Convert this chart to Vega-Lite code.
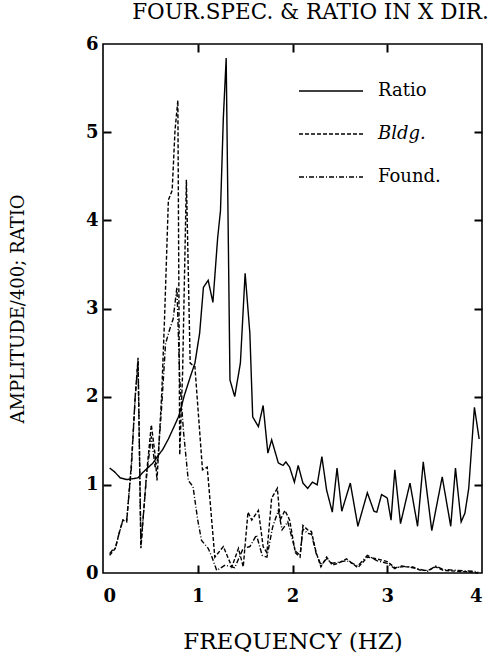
{
  "$schema": "https://vega.github.io/schema/vega-lite/v6.json",
  "width": 379,
  "height": 529,
  "autosize": {"type": "none"},
  "padding": {"left": 103, "top": 44, "right": 11, "bottom": 84},
  "background": "white",
  "title": {"text": "FOUR.SPEC. & RATIO IN X DIR.", "font": "DejaVu Serif", "fontSize": 21.5, "fontWeight": "normal", "color": "black", "anchor": "middle", "offset": 12, "dx": 18},
  "config": {
    "view": {"stroke": "black", "strokeWidth": 1.6},
    "axis": {"grid": false, "domain": false, "ticks": true, "tickColor": "black", "tickOpacity": 1, "tickWidth": 2, "tickSize": 8, "labelColor": "black", "labelFont": "DejaVu Serif", "labelFontSize": 18, "labelFontWeight": "bold", "titleColor": "black", "titleFont": "DejaVu Serif", "titleFontWeight": "normal"}
  },
  "datasets": {
    "spec": [
      {"series": "Ratio", "freq": 0.07, "amp": 1.19},
      {"series": "Ratio", "freq": 0.12, "amp": 1.15},
      {"series": "Ratio", "freq": 0.18, "amp": 1.08},
      {"series": "Ratio", "freq": 0.25, "amp": 1.06},
      {"series": "Ratio", "freq": 0.32, "amp": 1.07},
      {"series": "Ratio", "freq": 0.37, "amp": 1.08},
      {"series": "Ratio", "freq": 0.42, "amp": 1.14},
      {"series": "Ratio", "freq": 0.48, "amp": 1.2},
      {"series": "Ratio", "freq": 0.53, "amp": 1.25},
      {"series": "Ratio", "freq": 0.58, "amp": 1.33},
      {"series": "Ratio", "freq": 0.63, "amp": 1.4},
      {"series": "Ratio", "freq": 0.69, "amp": 1.52},
      {"series": "Ratio", "freq": 0.75, "amp": 1.66},
      {"series": "Ratio", "freq": 0.8, "amp": 1.78},
      {"series": "Ratio", "freq": 0.86, "amp": 2.02},
      {"series": "Ratio", "freq": 0.92, "amp": 2.22},
      {"series": "Ratio", "freq": 0.97, "amp": 2.38},
      {"series": "Ratio", "freq": 1.02, "amp": 2.72},
      {"series": "Ratio", "freq": 1.06, "amp": 3.24},
      {"series": "Ratio", "freq": 1.11, "amp": 3.32},
      {"series": "Ratio", "freq": 1.16, "amp": 3.07},
      {"series": "Ratio", "freq": 1.21, "amp": 3.8},
      {"series": "Ratio", "freq": 1.24, "amp": 4.11},
      {"series": "Ratio", "freq": 1.27, "amp": 5.16},
      {"series": "Ratio", "freq": 1.3, "amp": 5.84},
      {"series": "Ratio", "freq": 1.34, "amp": 2.19},
      {"series": "Ratio", "freq": 1.39, "amp": 2.0},
      {"series": "Ratio", "freq": 1.45, "amp": 2.38},
      {"series": "Ratio", "freq": 1.5, "amp": 3.4},
      {"series": "Ratio", "freq": 1.55, "amp": 2.72},
      {"series": "Ratio", "freq": 1.58, "amp": 1.77},
      {"series": "Ratio", "freq": 1.64, "amp": 1.66},
      {"series": "Ratio", "freq": 1.69, "amp": 1.9},
      {"series": "Ratio", "freq": 1.74, "amp": 1.36},
      {"series": "Ratio", "freq": 1.78, "amp": 1.51},
      {"series": "Ratio", "freq": 1.85, "amp": 1.25},
      {"series": "Ratio", "freq": 1.9, "amp": 1.22},
      {"series": "Ratio", "freq": 1.93, "amp": 1.26},
      {"series": "Ratio", "freq": 1.97, "amp": 1.2},
      {"series": "Ratio", "freq": 2.02, "amp": 1.03},
      {"series": "Ratio", "freq": 2.06, "amp": 1.22},
      {"series": "Ratio", "freq": 2.11, "amp": 1.02},
      {"series": "Ratio", "freq": 2.16, "amp": 0.96},
      {"series": "Ratio", "freq": 2.21, "amp": 1.03},
      {"series": "Ratio", "freq": 2.26, "amp": 1.0},
      {"series": "Ratio", "freq": 2.31, "amp": 1.32},
      {"series": "Ratio", "freq": 2.36, "amp": 0.94},
      {"series": "Ratio", "freq": 2.42, "amp": 0.69},
      {"series": "Ratio", "freq": 2.47, "amp": 1.19},
      {"series": "Ratio", "freq": 2.52, "amp": 0.7},
      {"series": "Ratio", "freq": 2.61, "amp": 1.02},
      {"series": "Ratio", "freq": 2.69, "amp": 0.53},
      {"series": "Ratio", "freq": 2.79, "amp": 0.91},
      {"series": "Ratio", "freq": 2.86, "amp": 0.7},
      {"series": "Ratio", "freq": 2.89, "amp": 0.69},
      {"series": "Ratio", "freq": 2.94, "amp": 0.89},
      {"series": "Ratio", "freq": 3.0, "amp": 0.85},
      {"series": "Ratio", "freq": 3.04, "amp": 0.6},
      {"series": "Ratio", "freq": 3.08, "amp": 1.17},
      {"series": "Ratio", "freq": 3.14, "amp": 0.56},
      {"series": "Ratio", "freq": 3.24, "amp": 1.02},
      {"series": "Ratio", "freq": 3.32, "amp": 0.53},
      {"series": "Ratio", "freq": 3.38, "amp": 1.26},
      {"series": "Ratio", "freq": 3.47, "amp": 0.48},
      {"series": "Ratio", "freq": 3.58, "amp": 1.09},
      {"series": "Ratio", "freq": 3.67, "amp": 0.53},
      {"series": "Ratio", "freq": 3.72, "amp": 1.19},
      {"series": "Ratio", "freq": 3.78, "amp": 0.58},
      {"series": "Ratio", "freq": 3.82, "amp": 0.68},
      {"series": "Ratio", "freq": 3.86, "amp": 0.96},
      {"series": "Ratio", "freq": 3.92, "amp": 1.88},
      {"series": "Ratio", "freq": 3.97, "amp": 1.52},
      {"series": "Bldg.", "freq": 0.07, "amp": 0.2},
      {"series": "Bldg.", "freq": 0.1, "amp": 0.24},
      {"series": "Bldg.", "freq": 0.13, "amp": 0.28},
      {"series": "Bldg.", "freq": 0.17, "amp": 0.45},
      {"series": "Bldg.", "freq": 0.21, "amp": 0.6},
      {"series": "Bldg.", "freq": 0.25, "amp": 0.58},
      {"series": "Bldg.", "freq": 0.3, "amp": 1.25},
      {"series": "Bldg.", "freq": 0.34, "amp": 2.0},
      {"series": "Bldg.", "freq": 0.37, "amp": 2.44},
      {"series": "Bldg.", "freq": 0.4, "amp": 0.28},
      {"series": "Bldg.", "freq": 0.46, "amp": 1.13},
      {"series": "Bldg.", "freq": 0.51, "amp": 1.68},
      {"series": "Bldg.", "freq": 0.55, "amp": 1.34},
      {"series": "Bldg.", "freq": 0.57, "amp": 1.05},
      {"series": "Bldg.", "freq": 0.62, "amp": 2.04},
      {"series": "Bldg.", "freq": 0.65, "amp": 2.9},
      {"series": "Bldg.", "freq": 0.69, "amp": 4.23},
      {"series": "Bldg.", "freq": 0.73, "amp": 4.34},
      {"series": "Bldg.", "freq": 0.76, "amp": 5.02},
      {"series": "Bldg.", "freq": 0.79, "amp": 5.36},
      {"series": "Bldg.", "freq": 0.81, "amp": 1.34},
      {"series": "Bldg.", "freq": 0.84, "amp": 2.27},
      {"series": "Bldg.", "freq": 0.88, "amp": 4.46},
      {"series": "Bldg.", "freq": 0.92, "amp": 2.38},
      {"series": "Bldg.", "freq": 0.97, "amp": 2.34},
      {"series": "Bldg.", "freq": 1.05, "amp": 1.17},
      {"series": "Bldg.", "freq": 1.1, "amp": 1.2},
      {"series": "Bldg.", "freq": 1.18, "amp": 0.18},
      {"series": "Bldg.", "freq": 1.27, "amp": 0.3},
      {"series": "Bldg.", "freq": 1.36, "amp": 0.07},
      {"series": "Bldg.", "freq": 1.43, "amp": 0.28},
      {"series": "Bldg.", "freq": 1.48, "amp": 0.07},
      {"series": "Bldg.", "freq": 1.53, "amp": 0.69},
      {"series": "Bldg.", "freq": 1.57, "amp": 0.6},
      {"series": "Bldg.", "freq": 1.64, "amp": 0.71},
      {"series": "Bldg.", "freq": 1.69, "amp": 0.3},
      {"series": "Bldg.", "freq": 1.73, "amp": 0.23},
      {"series": "Bldg.", "freq": 1.78, "amp": 0.85},
      {"series": "Bldg.", "freq": 1.84, "amp": 0.96},
      {"series": "Bldg.", "freq": 1.87, "amp": 0.6},
      {"series": "Bldg.", "freq": 1.92, "amp": 0.71},
      {"series": "Bldg.", "freq": 1.97, "amp": 0.6},
      {"series": "Bldg.", "freq": 2.03, "amp": 0.23},
      {"series": "Bldg.", "freq": 2.08, "amp": 0.18},
      {"series": "Bldg.", "freq": 2.11, "amp": 0.54},
      {"series": "Bldg.", "freq": 2.16, "amp": 0.49},
      {"series": "Bldg.", "freq": 2.2, "amp": 0.47},
      {"series": "Bldg.", "freq": 2.25, "amp": 0.23},
      {"series": "Bldg.", "freq": 2.3, "amp": 0.07},
      {"series": "Bldg.", "freq": 2.36, "amp": 0.18},
      {"series": "Bldg.", "freq": 2.42, "amp": 0.09},
      {"series": "Bldg.", "freq": 2.48, "amp": 0.11},
      {"series": "Bldg.", "freq": 2.57, "amp": 0.16},
      {"series": "Bldg.", "freq": 2.69, "amp": 0.06},
      {"series": "Bldg.", "freq": 2.79, "amp": 0.18},
      {"series": "Bldg.", "freq": 2.89, "amp": 0.16},
      {"series": "Bldg.", "freq": 3.0, "amp": 0.13},
      {"series": "Bldg.", "freq": 3.08, "amp": 0.06},
      {"series": "Bldg.", "freq": 3.15, "amp": 0.07},
      {"series": "Bldg.", "freq": 3.27, "amp": 0.07},
      {"series": "Bldg.", "freq": 3.35, "amp": 0.03},
      {"series": "Bldg.", "freq": 3.43, "amp": 0.03},
      {"series": "Bldg.", "freq": 3.51, "amp": 0.07},
      {"series": "Bldg.", "freq": 3.59, "amp": 0.03},
      {"series": "Bldg.", "freq": 3.73, "amp": 0.02},
      {"series": "Bldg.", "freq": 3.9, "amp": 0.01},
      {"series": "Bldg.", "freq": 3.96, "amp": 0.0},
      {"series": "Found.", "freq": 0.07, "amp": 0.22},
      {"series": "Found.", "freq": 0.1, "amp": 0.26},
      {"series": "Found.", "freq": 0.13, "amp": 0.28},
      {"series": "Found.", "freq": 0.17, "amp": 0.45},
      {"series": "Found.", "freq": 0.21, "amp": 0.6},
      {"series": "Found.", "freq": 0.25, "amp": 0.6},
      {"series": "Found.", "freq": 0.3, "amp": 1.2},
      {"series": "Found.", "freq": 0.34, "amp": 2.0},
      {"series": "Found.", "freq": 0.37, "amp": 2.4},
      {"series": "Found.", "freq": 0.4, "amp": 0.32},
      {"series": "Found.", "freq": 0.46, "amp": 1.1},
      {"series": "Found.", "freq": 0.51, "amp": 1.55},
      {"series": "Found.", "freq": 0.55, "amp": 1.2},
      {"series": "Found.", "freq": 0.58, "amp": 1.3},
      {"series": "Found.", "freq": 0.62, "amp": 1.9},
      {"series": "Found.", "freq": 0.66, "amp": 2.6},
      {"series": "Found.", "freq": 0.7, "amp": 2.75},
      {"series": "Found.", "freq": 0.74, "amp": 2.88},
      {"series": "Found.", "freq": 0.78, "amp": 3.24},
      {"series": "Found.", "freq": 0.81, "amp": 2.2},
      {"series": "Found.", "freq": 0.85, "amp": 1.6},
      {"series": "Found.", "freq": 0.9, "amp": 1.05},
      {"series": "Found.", "freq": 0.95, "amp": 0.98},
      {"series": "Found.", "freq": 1.0, "amp": 0.6},
      {"series": "Found.", "freq": 1.04, "amp": 0.37},
      {"series": "Found.", "freq": 1.11, "amp": 0.28},
      {"series": "Found.", "freq": 1.15, "amp": 0.18},
      {"series": "Found.", "freq": 1.2, "amp": 0.03},
      {"series": "Found.", "freq": 1.29, "amp": 0.09},
      {"series": "Found.", "freq": 1.39, "amp": 0.06},
      {"series": "Found.", "freq": 1.48, "amp": 0.28},
      {"series": "Found.", "freq": 1.55, "amp": 0.3},
      {"series": "Found.", "freq": 1.62, "amp": 0.43},
      {"series": "Found.", "freq": 1.68, "amp": 0.2},
      {"series": "Found.", "freq": 1.73, "amp": 0.18},
      {"series": "Found.", "freq": 1.79, "amp": 0.52},
      {"series": "Found.", "freq": 1.85, "amp": 0.71},
      {"series": "Found.", "freq": 1.89, "amp": 0.49},
      {"series": "Found.", "freq": 1.95, "amp": 0.58},
      {"series": "Found.", "freq": 2.03, "amp": 0.25},
      {"series": "Found.", "freq": 2.08, "amp": 0.2},
      {"series": "Found.", "freq": 2.11, "amp": 0.5},
      {"series": "Found.", "freq": 2.16, "amp": 0.45},
      {"series": "Found.", "freq": 2.2, "amp": 0.44},
      {"series": "Found.", "freq": 2.25, "amp": 0.22},
      {"series": "Found.", "freq": 2.3, "amp": 0.09},
      {"series": "Found.", "freq": 2.36, "amp": 0.16},
      {"series": "Found.", "freq": 2.42, "amp": 0.11},
      {"series": "Found.", "freq": 2.48, "amp": 0.12},
      {"series": "Found.", "freq": 2.57, "amp": 0.14},
      {"series": "Found.", "freq": 2.69, "amp": 0.08},
      {"series": "Found.", "freq": 2.79, "amp": 0.2},
      {"series": "Found.", "freq": 2.89, "amp": 0.14},
      {"series": "Found.", "freq": 3.0, "amp": 0.11},
      {"series": "Found.", "freq": 3.08, "amp": 0.05},
      {"series": "Found.", "freq": 3.15, "amp": 0.08},
      {"series": "Found.", "freq": 3.27, "amp": 0.06},
      {"series": "Found.", "freq": 3.35, "amp": 0.04},
      {"series": "Found.", "freq": 3.43, "amp": 0.02},
      {"series": "Found.", "freq": 3.51, "amp": 0.08},
      {"series": "Found.", "freq": 3.59, "amp": 0.04},
      {"series": "Found.", "freq": 3.73, "amp": 0.03},
      {"series": "Found.", "freq": 3.9, "amp": 0.02},
      {"series": "Found.", "freq": 3.96, "amp": 0.01}
    ]
  },
  "data": {"name": "spec"},
  "layer": [
    {
      "mark": {"type": "line", "color": "black", "strokeWidth": 1.4},
      "encoding": {
        "x": {"field": "freq", "type": "quantitative", "scale": {"domain": [0, 4], "nice": false},
              "axis": {"orient": "bottom", "values": [0, 1, 2, 3, 4], "ticks": false, "labelPadding": 14, "title": "FREQUENCY (HZ)", "titleFontSize": 23, "titleX": 189.5, "titleY": 68, "titleBaseline": "middle", "titleAlign": "center"}},
        "y": {"field": "amp", "type": "quantitative", "scale": {"domain": [0, 6], "nice": false},
              "axis": {"orient": "left", "values": [0, 1, 2, 3, 4, 5, 6], "ticks": false, "labelPadding": 5, "title": "AMPLITUDE/400; RATIO", "titleFontSize": 18, "titleX": -85, "titleY": 264.5, "titleAngle": -90, "titleBaseline": "middle", "titleAlign": "center"}},
        "strokeDash": {"field": "series", "type": "nominal",
              "scale": {"domain": ["Ratio", "Bldg.", "Found."], "range": [[1, 0], [4, 2], [5, 2, 1, 2]]},
              "legend": {"title": null, "orient": "none", "legendX": 195, "legendY": 14, "symbolType": "stroke", "symbolSize": 4096, "symbolStrokeWidth": 1.4, "symbolStrokeColor": "black", "labelFont": "DejaVu Serif", "labelFontSize": 18, "labelColor": "black", "rowPadding": 1, "labelOffset": 14,
                         "encode": {"labels": {"update": {"fontStyle": {"signal": "datum.label == 'Bldg.' ? 'italic' : 'normal'"}}}}}}
      }
    },
    {
      "mark": {"type": "point", "opacity": 0},
      "encoding": {
        "x": {"field": "freq", "type": "quantitative", "axis": {"orient": "bottom", "offset": -8, "tickCount": 4, "values": [1, 2, 3], "ticks": true, "tickSize": 8, "tickWidth": 2, "tickColor": "black", "labels": false, "title": null}},
        "y": {"field": "amp", "type": "quantitative", "axis": {"orient": "left", "offset": -8, "values": [1, 2, 3, 4, 5], "ticks": true, "tickSize": 8, "tickWidth": 2, "tickColor": "black", "labels": false, "title": null}}
      }
    },
    {
      "mark": {"type": "point", "opacity": 0},
      "encoding": {
        "x": {"field": "freq", "type": "quantitative", "axis": {"orient": "top", "offset": -8, "values": [1, 2, 3], "ticks": true, "tickSize": 8, "tickWidth": 2, "tickColor": "black", "labels": false, "title": null}},
        "y": {"field": "amp", "type": "quantitative", "axis": {"orient": "right", "offset": -8, "values": [1, 2, 3, 4, 5], "ticks": true, "tickSize": 8, "tickWidth": 2, "tickColor": "black", "labels": false, "title": null}}
      }
    }
  ],
  "resolve": {"axis": {"x": "independent", "y": "independent"}}
}
